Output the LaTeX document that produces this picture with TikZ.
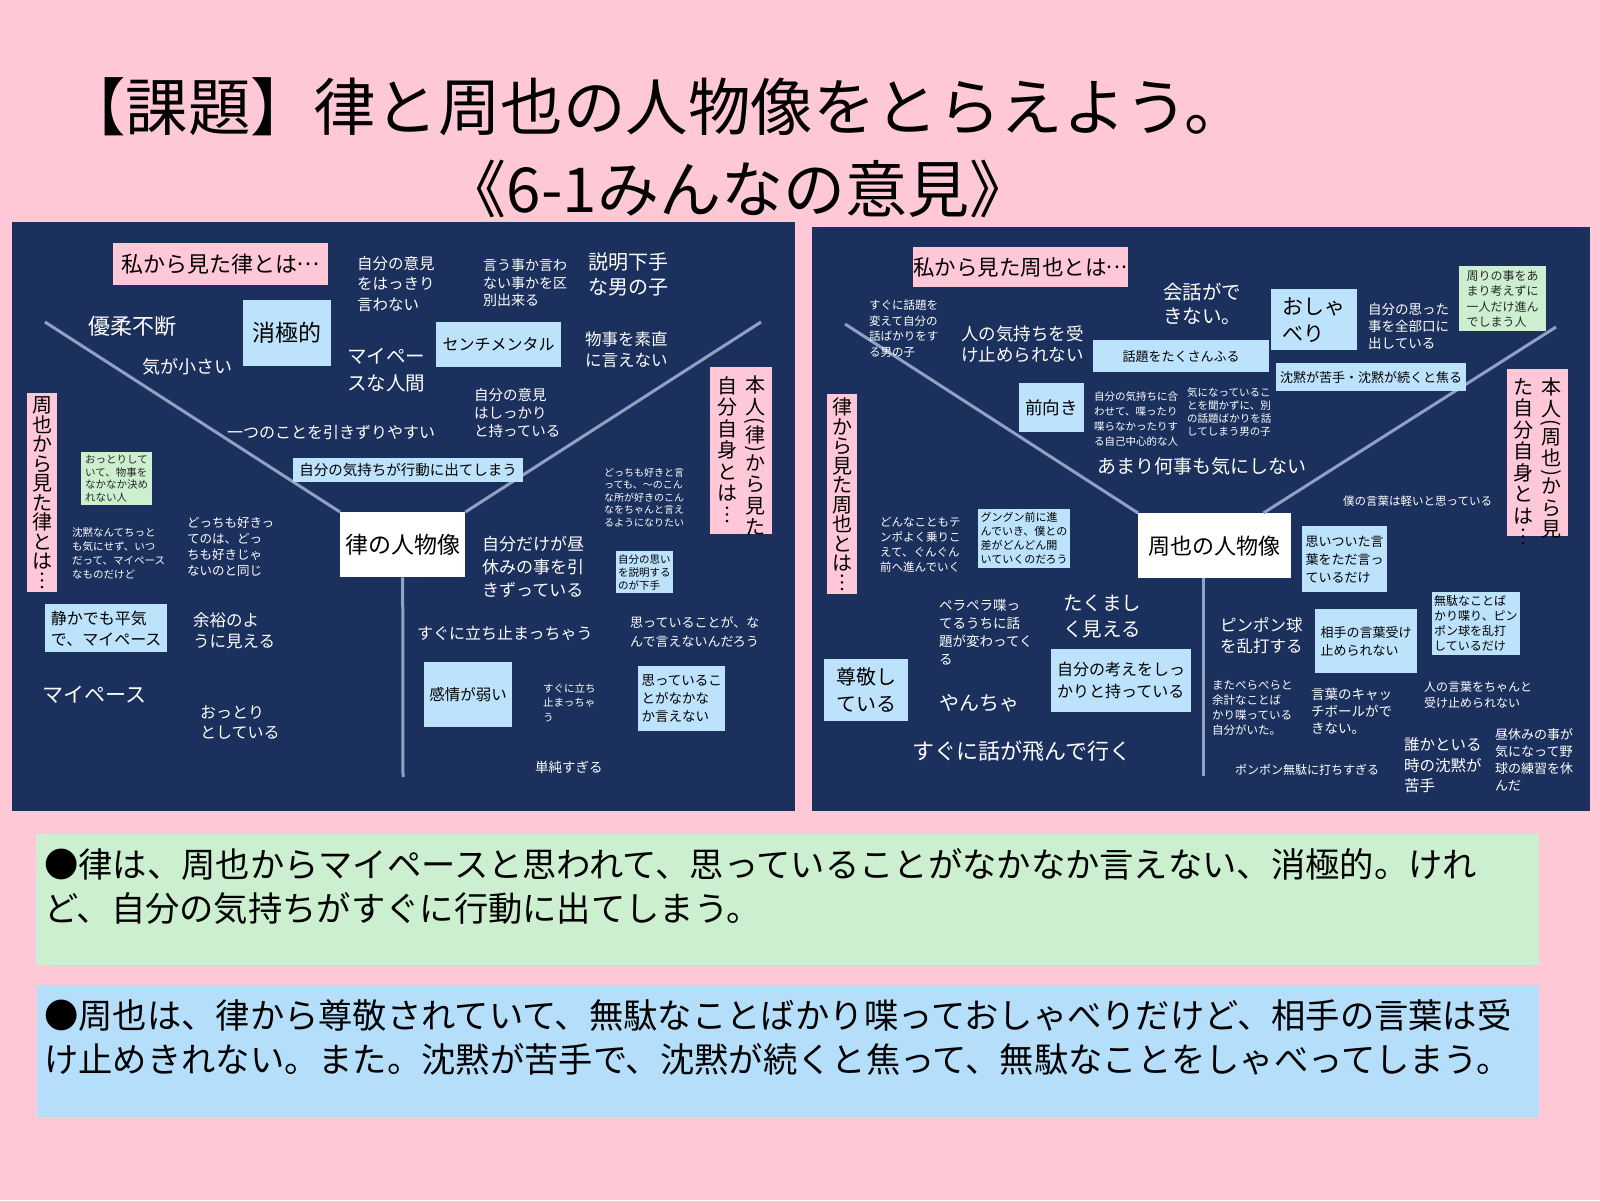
\documentclass[tikz,border=0pt]{standalone}
\usepackage{fontspec}
\usepackage{graphicx}
\setmainfont{Noto Sans CJK JP}
\usetikzlibrary{calc}
\definecolor{bgpink}{HTML}{FEC8D6}
\definecolor{navy}{HTML}{1B305D}
\definecolor{lblue}{HTML}{BDE2FB}
\definecolor{lpink}{HTML}{FFC8D8}
\definecolor{lgreen}{HTML}{CDEFD0}
\definecolor{armc}{HTML}{8FA2C2}
\definecolor{bgreen}{HTML}{CCEFD0}
\definecolor{bblue}{HTML}{B5DEFB}
\newcommand{\mdots}{\raisebox{0.3em}{\makebox[1em][c]{.\hspace{0.07em}.\hspace{0.07em}.}}}
\newcommand{\vlp}{\rotatebox[origin=c]{-90}{(}}
\newcommand{\vrp}{\rotatebox[origin=c]{90}{(}}
\begin{document}
\begin{tikzpicture}[x=1pt,y=-1pt,
  fs/.style args={#1/#2}{font=\fontsize{#1}{#2}\selectfont},
  wt/.style={text=white, inner sep=0pt, anchor=west, align=left},
  st/.style={text=black, inner sep=0pt, anchor=west, align=left},
  vt/.style={text=black, inner sep=0pt, align=center},
  lbox/.style={fill=lblue, text=black, anchor=north west, inner xsep=2pt, inner ysep=1pt, align=left},
  gbox/.style={fill=lgreen, text=black!85, anchor=north west, inner xsep=2pt, inner ysep=1pt, align=left},
  pbox/.style={fill=lpink, text=black, anchor=north west, inner sep=0pt, align=center},
  cbox/.style={fill=white, text=black, anchor=north west, inner sep=0pt, align=center},
  panel/.style={fill=navy, anchor=north west, inner sep=0pt},
  arm/.style={draw=armc, line width=3pt}
]
\useasboundingbox (0,0) rectangle (1600,1200);
\fill[bgpink] (0,0) rectangle (1600,1200);

% titles
\node[fs=62.5/70, text=black, inner sep=0pt] (title) at (655,107) {【課題】律と周也の人物像をとらえよう。};
\node[fs=62/70, text=black, inner sep=0pt] (subtitle) at (738,189) {《6-1みんなの意見》};

% ---------------- left panel ----------------
\node[panel, minimum width=783pt, minimum height=589pt] (panL) at (12,222) {};
\coordinate (lA) at (45,322);
\coordinate (lB) at (761,322);
\coordinate (lC) at (403,777);
\node[cbox, fs=23/28, minimum width=125pt, minimum height=65pt] (cL) at (340,512) {律の人物像};
\draw[arm] (lA) -- (cL.north west);
\draw[arm] (lB) -- (cL.north east);
\draw[arm] (cL.south) -- (lC);

\node[pbox, fs=22/26, minimum width=215pt, minimum height=42pt] (lT) at (113,243) {私から見た律とは\mdots};
\node[wt, fs=22/26] (l1) at (88,326) {優柔不断};
\node[lbox, fs=23/28, minimum width=88pt, minimum height=66pt, align=center] (l2) at (243,300) {消極的};
\node[wt, fs=18/22] (l3) at (142,367) {気が小さい};
\node[wt, fs=15.5/20.5] (l4) at (357,284) {自分の意見\\をはっきり\\言わない};
\node[wt, fs=19.5/27] (l5) at (347,370.5) {マイペー\\スな人間};
\node[wt, fs=16/20] (l6) at (227,432) {一つのことを引きずりやすい};
\node[wt, fs=14/17.5] (l7) at (483,283) {言う事か言わ\\ない事かを区\\別出来る};
\node[wt, fs=20/25] (l8) at (588,274.5) {説明下手\\な男の子};
\node[lbox, fs=16/20, minimum width=125pt, minimum height=45pt] (l9) at (436,322) {センチメンタル};
\node[wt, fs=16.5/21] (l10) at (585,349.5) {物事を素直\\に言えない};
\node[wt, fs=14.5/18] (l11) at (474,413) {自分の意見\\はしっかり\\と持っている};
\node[lbox, fs=14.5/18, minimum width=230pt, minimum height=24pt] (l12) at (293,458) {自分の気持ちが行動に出てしまう};
\node[pbox, fs=20/19.5, minimum width=30pt, minimum height=199pt] (lV1) at (27,393) {周\\也\\か\\ら\\見\\た\\律\\と\\は\\︙};
\node[pbox, minimum width=62pt, minimum height=167pt] (lV2) at (710,367) {};
\node[vt, fs=20/21.5, anchor=north] (lV2a) at (755,376) {本\\人\\[-8.5pt]\vlp\\[-6.5pt]律\\[-8.5pt]\vrp\\[-6.5pt]か\\ら\\見\\た};
\node[vt, fs=20/21.5, anchor=north] (lV2b) at (727,376) {自\\分\\自\\身\\と\\は\\︙};
\node[gbox, fs=10.5/12.5, minimum width=71pt, minimum height=53pt] (l13) at (81,452) {おっとりして\\いて、物事を\\なかなか決め\\れない人};
\node[wt, fs=10.5/14] (l14) at (72,553) {沈黙なんてちっと\\も気にせず、いつ\\だって、マイペース\\なものだけど};
\node[wt, fs=12.5/16] (l15) at (187,547) {どっちも好きっ\\てのは、どっ\\ちも好きじゃ\\ないのと同じ};
\node[lbox, fs=16/21, minimum width=122pt, minimum height=48pt] (l16) at (45,604) {静かでも平気\\で、マイペース};
\node[wt, fs=16.5/21] (l17) at (193,630.5) {余裕のよ\\うに見える};
\node[wt, fs=10/12.5] (l18) at (604,497.5) {どっちも好きと言\\っても、～のこん\\な所が好きのこん\\なをちゃんと言え\\るようになりたい};
\node[wt, fs=17/23] (l19) at (482,567) {自分だけが昼\\休みの事を引\\きずっている};
\node[lbox, fs=10.5/13, minimum width=56pt, minimum height=42pt] (l20) at (616,551) {自分の思い\\を説明する\\のが下手};
\node[wt, fs=13/19] (l21) at (630,632.5) {思っていることが、な\\んで言えないんだろう};
\node[wt, fs=21/25] (l22) at (42,695) {マイペース};
\node[wt, fs=16/20] (l23) at (200,723) {おっとり\\としている};
\node[wt, fs=16/20] (l24) at (417,633) {すぐに立ち止まっちゃう};
\node[lbox, fs=15.5/20, minimum width=88pt, minimum height=65pt] (l25) at (424,662) {感情が弱い};
\node[wt, fs=10.5/14.5] (l26) at (543,702.5) {すぐに立ち\\止まっちゃ\\う};
\node[lbox, fs=13.5/18, minimum width=87pt, minimum height=65pt] (l27) at (638,666) {思っているこ\\とがなかな\\か言えない};
\node[wt, fs=13.5/17] (l28) at (535,767) {単純すぎる};

% ---------------- right panel ----------------
\node[panel, minimum width=778pt, minimum height=584pt] (panR) at (812,227) {};
\coordinate (rA) at (845,324);
\coordinate (rB) at (1556,327);
\coordinate (rC) at (1203,776);
\node[cbox, fs=22/26, minimum width=153pt, minimum height=65pt] (cR) at (1138,513) {周也の人物像};
\draw[arm] (rA) -- (cR.north west);
\draw[arm] (rB) -- ($(cR.north east)+(-28,0)$);
\draw[arm] ($(cR.south west)+(65,0)$) -- (rC);

\node[pbox, fs=21.5/26, minimum width=214pt, minimum height=40pt] (rT) at (913,247) {私から見た周也とは\mdots};
\node[wt, fs=11.5/15.5] (r1) at (869,328.5) {すぐに話題を\\変えて自分の\\話ばかりをす\\る男の子};
\node[wt, fs=17.5/21] (r2) at (961,344.5) {人の気持ちを受\\け止められない};
\node[wt, fs=19.5/24] (r3) at (1163,304) {会話がで\\きない。};
\node[lbox, fs=13/16, minimum width=176pt, minimum height=32pt, align=center] (r4) at (1093,340) {話題をたくさんふる};
\node[lbox, fs=21/27, minimum width=86pt, minimum height=61pt] (r5) at (1271,289) {おしゃ\\べり};
\node[wt, fs=13.5/17] (r6) at (1368,326) {自分の思った\\事を全部口に\\出している};
\node[gbox, fs=12/15.5, minimum width=87pt, minimum height=65pt] (r7) at (1459,266) {周りの事をあ\\まり考えずに\\一人だけ進ん\\でしまう人};
\node[lbox, fs=13/16, minimum width=190pt, minimum height=28pt] (r8) at (1276,363) {沈黙が苦手・沈黙が続くと焦る};
\node[wt, fs=10.5/13.3] (r9) at (1187,412) {気になっているこ\\とを聞かずに、別\\の話題ばかりを話\\してしまう男の子};
\node[lbox, fs=17.5/21, minimum width=65pt, minimum height=49pt] (r10) at (1019,383) {前向き};
\node[wt, fs=10.5/14.7] (r11) at (1094,419) {自分の気持ちに合\\わせて、喋ったり\\喋らなかったりす\\る自己中心的な人};
\node[pbox, fs=20/19.5, minimum width=30pt, minimum height=200pt] (rV1) at (827,394) {律\\か\\ら\\見\\た\\周\\也\\と\\は\\︙};
\node[pbox, minimum width=61pt, minimum height=167pt] (rV2) at (1507,369) {};
\node[vt, fs=20/21.5, anchor=north] (rV2a) at (1551,378) {本\\人\\[-8.5pt]\vlp\\[-6.5pt]周\\也\\[-8.5pt]\vrp\\[-6.5pt]か\\ら\\見};
\node[vt, fs=20/21.5, anchor=north] (rV2b) at (1523,378) {た\\自\\分\\自\\身\\と\\は\\︙};
\node[wt, fs=19/23] (r12) at (1097,466) {あまり何事も気にしない};
\node[wt, fs=11.5/14] (r13) at (1343,501) {僕の言葉は軽いと思っている};
\node[wt, fs=11.5/15] (r14) at (880,544.5) {どんなこともテ\\ンポよく乗りこ\\えて、ぐんぐん\\前へ進んでいく};
\node[lbox, fs=11/14, minimum width=92pt, minimum height=59pt] (r15) at (978,509) {グングン前に進\\んでいき、僕との\\差がどんどん開\\いていくのだろう};
\node[lbox, fs=13/18, minimum width=85pt, minimum height=66pt] (r16) at (1302,526) {思いついた言\\葉をただ言っ\\ているだけ};
\node[wt, fs=13.5/18] (r17) at (939,632) {ペラペラ喋っ\\てるうちに話\\題が変わってく\\る};
\node[wt, fs=19.5/26] (r18) at (1063,616) {たくまし\\く見える};
\node[wt, fs=16.5/21] (r19) at (1220,635.5) {ピンポン球\\を乱打する};
\node[lbox, fs=13/18, minimum width=102pt, minimum height=64pt] (r20) at (1315,609) {相手の言葉受け\\止められない};
\node[lbox, fs=12/15, minimum width=85pt, minimum height=63pt] (r21) at (1432,592) {無駄なことば\\かり喋り、ピン\\ポン球を乱打\\しているだけ};
\node[lbox, fs=20/27, minimum width=84pt, minimum height=62pt] (r22) at (824,659) {尊敬し\\ている};
\node[lbox, fs=16/22, minimum width=140pt, minimum height=63pt] (r23) at (1051,649) {自分の考えをしっ\\かりと持っている};
\node[wt, fs=20/24] (r24) at (939,703) {やんちゃ};
\node[wt, fs=11.5/15] (r25) at (1212,707.5) {またぺらぺらと\\余計なことば\\かり喋っている\\自分がいた。};
\node[wt, fs=13.5/17] (r26) at (1311,711) {言葉のキャッ\\チボールがで\\きない。};
\node[wt, fs=12/16] (r27) at (1424,695) {人の言葉をちゃんと\\受け止められない};
\node[wt, fs=22/26] (r28) at (912,751) {すぐに話が飛んで行く};
\node[wt, fs=12/15] (r29) at (1235,770) {ポンポン無駄に打ちすぎる};
\node[wt, fs=15.5/20.5] (r30) at (1404,765.5) {誰かといる\\時の沈黙が\\苦手};
\node[wt, fs=13/17] (r31) at (1495,759.5) {昼休みの事が\\気になって野\\球の練習を休\\んだ};

% ---------------- summaries ----------------
\node[fill=bgreen, minimum width=1503pt, minimum height=131pt, anchor=north west, inner sep=0pt] (sumA) at (36,834) {};
\node[fill=bblue, minimum width=1502pt, minimum height=132pt, anchor=north west, inner sep=0pt] (sumB) at (37,985) {};
\node[st, fs=34.3/44] (sA) at (44,886) {●律は、周也からマイペースと思われて、思っていることがなかなか言えない、消極的。けれ\\ど、自分の気持ちがすぐに行動に出てしまう。};
\node[st, fs=34.3/44] (sB) at (44,1037) {●周也は、律から尊敬されていて、無駄なことばかり喋っておしゃべりだけど、相手の言葉は受\\け止めきれない。また。沈黙が苦手で、沈黙が続くと焦って、無駄なことをしゃべってしまう。};
\end{tikzpicture}
\end{document}
